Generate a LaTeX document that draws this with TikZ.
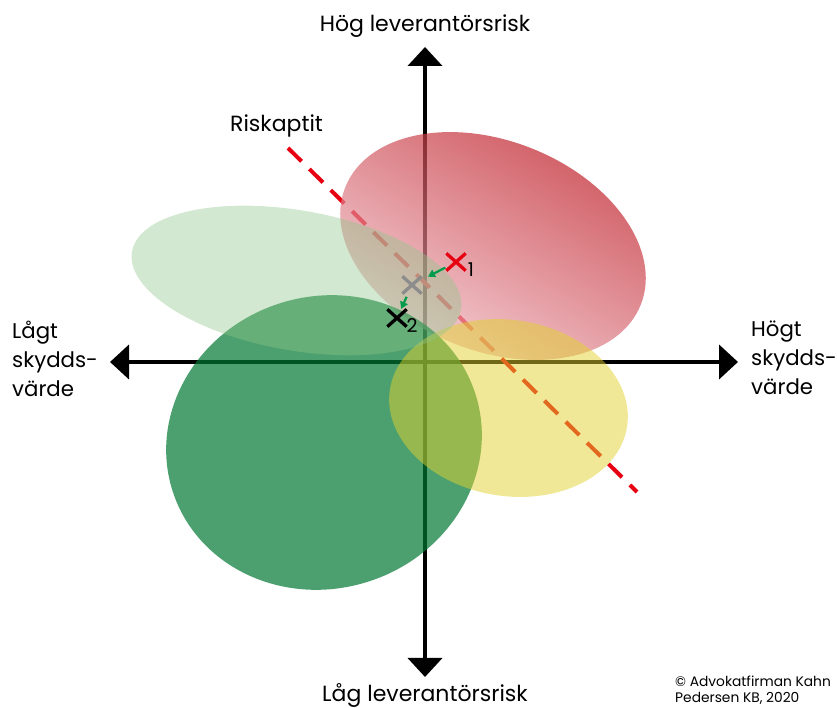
\documentclass[tikz,border=0pt]{standalone}
\usepackage{fontspec}
\setmainfont{Poppins}
\usetikzlibrary{arrows.meta,shapes.misc}
\definecolor{riskred}{RGB}{230,0,18}
\definecolor{redlight}{RGB}{240,190,198}
\definecolor{reddark}{RGB}{185,10,20}
\definecolor{darkgreen}{RGB}{0,120,50}
\definecolor{lightgreen}{RGB}{142,197,137}
\definecolor{yellowblob}{RGB}{225,209,45}
\definecolor{movegreen}{RGB}{0,155,75}
\definecolor{oldgray}{RGB}{140,140,140}
\begin{document}
\begin{tikzpicture}[line join=round,x=1pt,y=1pt,
		axis/.style={line width=4pt,-{Triangle[width=34pt,length=19pt]}},
		riskline/.style={draw=riskred,line width=4pt,dash pattern=on 19pt off 11pt},
		xmark/.style={cross out,draw=#1,line width=3.3pt,minimum width=16pt,minimum height=14pt,inner sep=0pt},
		movearrow/.style={draw=movegreen,line width=2.2pt,-{Triangle[width=8pt,length=7pt]}},
		axistext/.style={font=\fontsize{22}{29}\selectfont,align=left},
		sidetext/.style={font=\fontsize{21.3}{29}\selectfont,align=left,anchor=north west,inner sep=0pt},
		subtext/.style={font=\fontsize{19}{20}\selectfont}]
		\useasboundingbox (0,0) rectangle (837,708);
		% axes
		\coordinate (o) at (425,346);
		\coordinate (top) at (425,661);
		\coordinate (bottom) at (425,31);
		\coordinate (left) at (110,346);
		\coordinate (right) at (738,346);
		\foreach \tip in {top,bottom,left,right}
		\draw[axis] (o) -- (\tip);
		% riskaptit
		\coordinate (ra) at (288,560);
		\coordinate (rb) at (637,216);
		\draw[riskline] (ra) -- (rb);
		% areas
		\shade[fill opacity=0.7,left color=redlight,right color=reddark,shading angle=150]
			(493,462) ellipse[x radius=159,y radius=105,rotate=-21.7];
		\fill[darkgreen,fill opacity=0.7] (324,265.5) ellipse[x radius=159,y radius=146,rotate=18];
		\fill[yellowblob,fill opacity=0.5] (508.5,300) ellipse[x radius=120,y radius=88,rotate=-9];
		\fill[lightgreen,fill opacity=0.4] (296.5,427.5) ellipse[x radius=167,y radius=70,rotate=-10];
		% marks
		\node[xmark=riskred] (x1) at (456,446) {};
		\node[xmark=oldgray] (xg) at (412,423) {};
		\node[xmark=black] (x2) at (397,390) {};
		\node[subtext] (n1) at (471,438) {1};
		\node[subtext] (n2) at (412,382) {2};
		\draw[movearrow,shorten <=12pt,shorten >=18pt] (x1.center) -- (xg.center);
		\draw[movearrow,shorten <=13pt,shorten >=10pt] (xg.center) -- (x2.center);
		% texts
		\node[axistext,anchor=base] (hog) at (425,676) {Hög leverantörsrisk};
		\node[axistext,anchor=base] (lag) at (425,6) {Låg leverantörsrisk};
		\node[axistext,anchor=base west,inner sep=0pt] (risk) at (230,576) {Riskaptit};
		\node[sidetext] (lagt) at (12,387) {Lågt\\skydds-\\värde};
		\node[sidetext] (hogt) at (751,387) {Högt\\skydds-\\värde};
		\node[font=\fontsize{13.8}{15.5}\selectfont,align=left,anchor=north west,inner sep=0pt] (copy) at (675,32) {© Advokatfirman Kahn\\Pedersen KB, 2020};
\end{tikzpicture}
\end{document}
